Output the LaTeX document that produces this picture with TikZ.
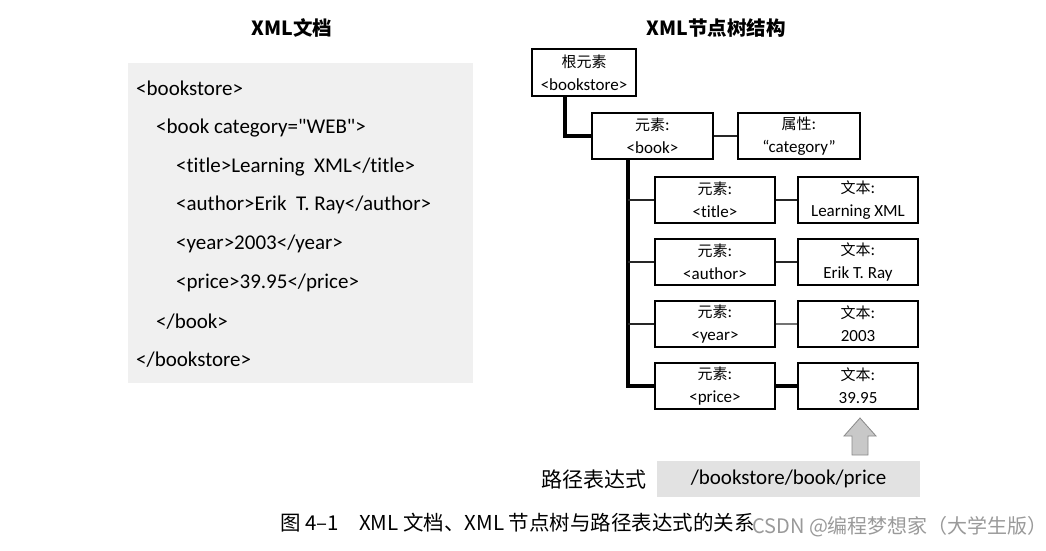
\documentclass[tikz,border=0pt]{standalone}
\usepackage{fontspec}
\setmainfont{Carlito}[Ligatures={TeXOff,CommonOff}]
\newfontfamily\cjk{Noto Sans CJK SC}
\definecolor{codebg}{HTML}{F0F0F0}
\definecolor{pathbg}{HTML}{E2E2E2}
\definecolor{arrowfill}{HTML}{C8C8C8}
\definecolor{arrowline}{HTML}{8A8A8A}
\definecolor{wm}{HTML}{9A9A9A}
\begin{document}
\begin{tikzpicture}[x=1pt,y=-1pt,
  treebox/.style={draw=black,line width=1.2pt,fill=white,minimum width=120pt,minimum height=46pt,
    inner sep=0pt,align=center,font=\fontsize{17}{23}\selectfont},
  thinln/.style={line width=1.4pt,draw=black!85},
  thickln/.style={line width=4pt,draw=black},
  code/.style={anchor=west,inner sep=0pt,font=\fontsize{21}{24}\selectfont},
  title/.style={inner sep=0pt,font=\cjk\bfseries\fontsize{19.5}{22}\selectfont},
  cj/.style={}]
\newcommand{\cjt}[1]{{\cjk\fontsize{15}{23}\selectfont #1}}
\useasboundingbox (0,0) rectangle (1046,550);
\fill[white] (0,0) rectangle (1046,550);

% left: XML document
\node[title] (t1) at (292,28) {XML文档};
\fill[codebg] (128,63) rectangle (473,383);
\node[code] (c1) at (136,88) {<bookstore>};
\node[code] (c2) at (156,128) {<book category="WEB">};
\node[code] (c3) at (176,167) {<title>Learning~~XML</title>};
\node[code] (c4) at (176,205) {<author>Erik~~T. Ray</author>};
\node[code] (c5) at (176,244) {<year>2003</year>};
\node[code] (c6) at (176,283) {<price>39.95</price>};
\node[code] (c7) at (156,322) {</book>};
\node[code] (c8) at (136,360) {</bookstore>};

% right: tree
\node[title] (t2) at (716,28) {XML节点树结构};
\node[treebox,minimum width=104pt,minimum height=47pt] (root) at (584,72.5) {\cjt{根元素}\\<bookstore>};
\node[treebox,minimum width=121pt] (book) at (652.5,136) {\cjt{元素}:\\<book>};
\node[treebox,minimum width=122pt] (attr) at (799,136) {\cjt{属性}:\\“category”};

\node[treebox] (etitle) at (715,200) {\cjt{元素}:\\<title>};
\node[treebox] (eauthor) at (715,262) {\cjt{元素}:\\<author>};
\node[treebox] (eyear) at (715,324) {\cjt{元素}:\\<year>};
\node[treebox] (eprice) at (715,386) {\cjt{元素}:\\<price>};

\node[treebox] (xtitle) at (858,200) {\cjt{文本}:\\Learning XML};
\node[treebox] (xauthor) at (858,262) {\cjt{文本}:\\Erik T. Ray};
\node[treebox] (xyear) at (858,324) {\cjt{文本}:\\2003};
\node[treebox] (xprice) at (858,386) {\cjt{文本}:\\39.95};

\coordinate (rx) at (565,96);
\coordinate (bx) at (628,159);
\draw[thickln] (rx) |- (book.west);
\draw[thickln] (bx) |- (eprice.west);
\draw[thinln] (etitle.west) -- (etitle.west -| bx);
\draw[thinln] (eauthor.west) -- (eauthor.west -| bx);
\draw[thinln] (eyear.west) -- (eyear.west -| bx);
\draw[thinln] (book.east) -- (attr.west);
\draw[thinln] (etitle.east) -- (xtitle.west);
\draw[thinln] (eauthor.east) -- (xauthor.west);
\draw[thinln,draw=black!55] (eyear.east) -- (xyear.west);
\draw[thickln] (eprice.east) -- (xprice.west);

% path expression
\node[inner sep=0pt,font=\cjk\fontsize{21}{24}\selectfont] (plabel) at (594,480) {路径表达式};
\node[fill=pathbg,minimum width=263pt,minimum height=36pt,inner sep=0pt,font=\fontsize{21}{24}\selectfont] (pexpr) at (788.5,479) {/bookstore/book/price};

% block arrow
\filldraw[fill=arrowfill,draw=arrowline,line width=0.8pt]
  (852,455) -- (852,436) -- (844,436) -- (860,418) -- (876,436) -- (868,436) -- (868,455) -- cycle;

% caption
\node[inner sep=0pt,anchor=west,font=\cjk\fontsize{20.5}{22}\selectfont] (cap) at (280,523) {图 4–1\hspace{20pt}XML 文档、XML 节点树与路径表达式的关系};
\node[inner sep=0pt,anchor=west,text=wm,font=\cjk\fontsize{20}{22}\selectfont] (wmk) at (752,527) {CSDN @编程梦想家（大学生版）};
\end{tikzpicture}
\end{document}
